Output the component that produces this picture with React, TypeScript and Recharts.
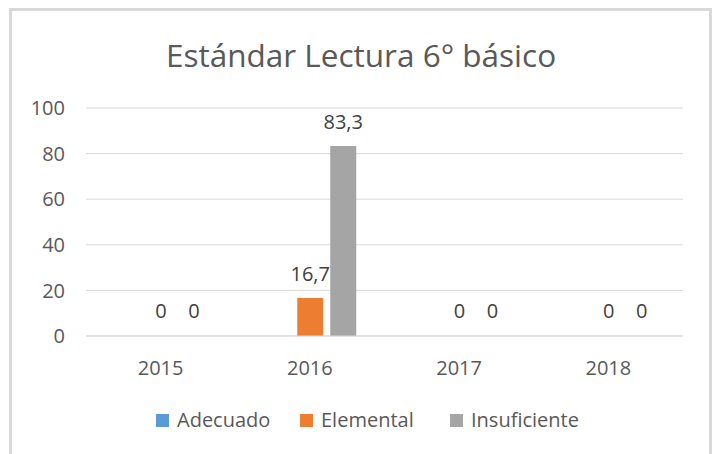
import React from 'react';
import { BarChart, Bar, XAxis, YAxis, CartesianGrid, Legend, LabelList, Rectangle } from 'recharts';

const categories = ['2015', '2016', '2017', '2018'];
const adecuado: (number | null)[] = [null, null, null, null];
const elemental: number[] = [0, 16.7, 0, 0];
const insuficiente: number[] = [0, 83.3, 0, 0];
const yTicks = [0, 20, 40, 60, 80, 100];

const seriesInfo = [
  { key: 'Adecuado', color: '#5B9BD5' },
  { key: 'Elemental', color: '#ED7D31' },
  { key: 'Insuficiente', color: '#A5A5A5' },
];

const data = categories.map((c, i) => ({
  year: c,
  Adecuado: adecuado[i],
  Elemental: elemental[i],
  Insuficiente: insuficiente[i],
}));

const FONT = '"Open Sans", sans-serif';
const TXT = '#595959';

const fmt = (v: any) => (v === null || v === undefined ? '' : String(v).replace('.', ','));

const legendLefts = [156, 300, 450];

const LegendContent = () => (
  <div style={{ position: 'relative', height: 24, fontFamily: FONT, fontSize: 20, color: TXT }}>
    {seriesInfo.map((s, i) => (
      <div key={s.key} style={{ position: 'absolute', left: legendLefts[i], top: 0, display: 'flex', alignItems: 'center', height: 24, whiteSpace: 'nowrap' }}>
        <span style={{ display: 'inline-block', width: 13, height: 13, background: s.color, marginRight: 8 }} />
        <span style={{ lineHeight: '24px' }}>{s.key}</span>
      </div>
    ))}
  </div>
);

const BarShape = (props: any) => {
  const { value, x, y, width, height, fill } = props;
  const v = Array.isArray(value) ? value[1] - value[0] : value;
  if (!v) return <g />;
  return <Rectangle x={x} y={y} width={width} height={height} fill={fill} />;
};

export default function App() {
  return (
    <div style={{ position: 'fixed', left: 0, top: 0, width: 712, height: 454, background: '#fff', overflow: 'hidden' }}>
      <div style={{ position: 'absolute', left: 9, top: 8, width: 703, height: 470, border: '3px solid #d9d9d9', boxSizing: 'border-box' }} />
      <div style={{ position: 'absolute', left: 0, top: 33, width: 722, textAlign: 'center', fontFamily: FONT, fontSize: 31.5, color: TXT, lineHeight: '44px' }}>
        Estándar Lectura 6° básico
      </div>
      <div style={{ position: 'absolute', left: 0, top: 0 }}>
        <BarChart width={712} height={454} data={data} margin={{ top: 108, right: 29, left: 0, bottom: 22 }} barSize={26} barGap={7}>
          <CartesianGrid vertical={false} stroke="#d9d9d9" strokeWidth={1} />
          <XAxis dataKey="year" height={72} axisLine={{ stroke: '#d9d9d9' }} tickLine={false} tickSize={0} tickMargin={25}
            tick={{ fill: TXT, fontFamily: FONT, fontSize: 20 }} />
          <YAxis domain={[0, 100]} ticks={yTicks} width={86} axisLine={false} tickLine={false} tickSize={0} tickMargin={21}
            tick={{ fill: TXT, fontFamily: FONT, fontSize: 20 }} />
          <Legend verticalAlign="bottom" content={<LegendContent />} wrapperStyle={{ left: 0, width: 712 }} />
          <Bar dataKey="Adecuado" fill="#5B9BD5" isAnimationActive={false} />
          <Bar dataKey="Elemental" fill="#ED7D31" isAnimationActive={false} minPointSize={1} shape={BarShape}>
            <LabelList dataKey="Elemental" position="top" offset={17} formatter={fmt} style={{ fill: '#404040', fontFamily: FONT, fontSize: 20 }} />
          </Bar>
          <Bar dataKey="Insuficiente" fill="#A5A5A5" isAnimationActive={false} minPointSize={1} shape={BarShape}>
            <LabelList dataKey="Insuficiente" position="top" offset={17} formatter={fmt} style={{ fill: '#404040', fontFamily: FONT, fontSize: 20 }} />
          </Bar>
        </BarChart>
      </div>
    </div>
  );
}
